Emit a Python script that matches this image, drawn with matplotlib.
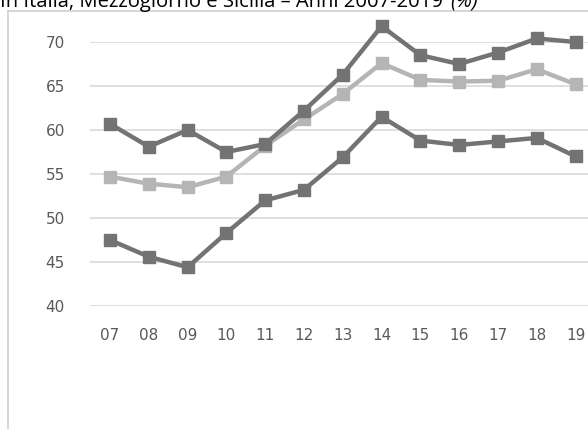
import matplotlib
matplotlib.use("Agg")
import matplotlib.pyplot as plt
from matplotlib.lines import Line2D

# data
anni = ["07", "08", "09", "10", "11", "12", "13", "14", "15", "16", "17", "18", "19"]
serie_alta = [60.7, 58.1, 60.0, 57.5, 58.4, 62.2, 66.3, 71.8, 68.5, 67.5, 68.8, 70.4, 70.0]
serie_media = [54.7, 53.9, 53.5, 54.7, 58.2, 61.2, 64.1, 67.6, 65.7, 65.5, 65.6, 66.9, 65.2]
serie_bassa = [47.5, 45.6, 44.4, 48.3, 52.0, 53.2, 56.9, 61.5, 58.8, 58.3, 58.7, 59.1, 57.0]
yticks = [40, 45, 50, 55, 60, 65, 70]

W, H = 588, 429
fig = plt.figure(figsize=(W / 100, H / 100), dpi=100)

# chart frame (cropped at right and bottom)
fig.add_artist(Line2D([8 / W, 8 / W], [0, 1 - 11 / H], color="#d0d0d0", lw=1.2))
fig.add_artist(Line2D([8 / W, 1], [1 - 11 / H, 1 - 11 / H], color="#d0d0d0", lw=1.2))

# title, cut at the top like the original
titolo = fig.text(0, 1 - 7 / H, "In Italia, Mezzogiorno e Sicilia – Anni 2007-2019",
                  fontsize=14, family="Open Sans", color="black", va="baseline", ha="left")
fig.canvas.draw()
bb = titolo.get_window_extent()
fs = 14 * 445 / bb.width
titolo.set_fontsize(fs)
fig.text(450 / W, 1 - 7 / H, "(%)", fontsize=fs, family="Open Sans",
         style="italic", color="black", va="baseline", ha="left")

ax = fig.add_axes([90 / W, 1 - 306 / H, 1 - 90 / W, 264 / H])
x = range(len(anni))
for vals, col, z in [(serie_media, "#b5b5b5", 3), (serie_bassa, "#737373", 4), (serie_alta, "#737373", 5)]:
    ax.plot(x, vals, color=col, lw=3.2, marker="s", ms=9, mec=col, mfc=col,
            clip_on=False, zorder=z)

ax.set_xlim(-0.515, 12.32)
ax.set_ylim(40, 70)
ax.set_yticks(yticks)
ax.set_xticks(list(x))
ax.set_xticklabels(anni)
ax.grid(axis="y", color="#d9d9d9", lw=1.2)
ax.set_axisbelow(True)
for s in ax.spines.values():
    s.set_visible(False)
ax.tick_params(length=0, labelsize=11, labelcolor="#595959")
ax.tick_params(axis="y", pad=18)
ax.tick_params(axis="x", pad=16)

fig.savefig("out.png", dpi=100)
